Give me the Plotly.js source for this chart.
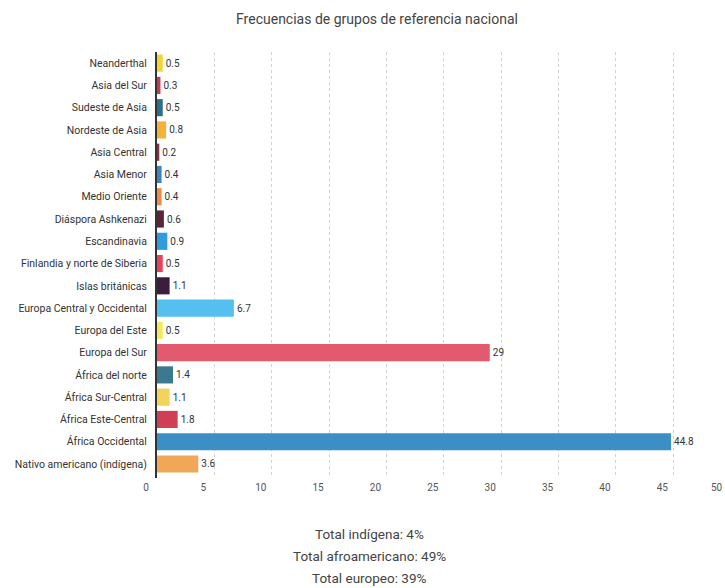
<!DOCTYPE html>
<html>
<head>
<meta charset="utf-8">
<script src="https://cdn.plot.ly/plotly-3.0.1.min.js"></script>
<style>html,body{margin:0;padding:0;background:#fff;overflow:hidden}#chart{width:725px;height:588px}</style>
</head>
<body>
<div id="chart"></div>
<script>
var categories = ["Neanderthal","Asia del Sur","Sudeste de Asia","Nordeste de Asia","Asia Central","Asia Menor","Medio Oriente","Diáspora Ashkenazi","Escandinavia","Finlandia y norte de Siberia","Islas británicas","Europa Central y Occidental","Europa del Este","Europa del Sur","África del norte","África Sur-Central","África Este-Central","África Occidental","Nativo americano (indígena)"];
var values = [0.5,0.3,0.5,0.8,0.2,0.4,0.4,0.6,0.9,0.5,1.1,6.7,0.5,29,1.4,1.1,1.8,44.8,3.6];
var barColors = ["#f3d436","#c43a52","#2d6e8e","#f2b33a","#8b2c42","#3a86bc","#ef8a48","#5b2438","#2f9be0","#e8405c","#3b1d3c","#55c0f0","#f3ea5a","#e35a6e","#3c7890","#f2d35c","#d04055","#3b8fc4","#f0a858"];
var tickValues = [0,5,10,15,20,25,30,35,40,45];
var lastTickLabel = "50";
var titleText = "Frecuencias de grupos de referencia nacional";
var footerLines = ["Total indígena: 4%","Total afroamericano: 49%","Total europeo: 39%"];

var trace = {
  type: "bar",
  orientation: "h",
  x: values,
  y: categories,
  marker: {color: barColors},
  text: values.map(String),
  textposition: "outside",
  textfont: {family: "Roboto, sans-serif", size: 10, color: "#333"},
  constraintext: "none",
  cliponaxis: false,
  hoverinfo: "x+y"
};

var W = 725, H = 588;
var plotTop = 52, plotBottom = 478, plotLeft = 157;
var plotH = plotBottom - plotTop, plotW = W - plotLeft;
function py(p){ return (plotBottom - p) / plotH; }
function px(p){ return (p - plotLeft) / plotW; }

var footerY = [534, 556, 578];
var annotations = footerLines.map(function(t, i){
  return {
    text: t, xref: "paper", yref: "paper",
    x: px(369), y: py(footerY[i]), xanchor: "center", yanchor: "middle",
    showarrow: false, font: {family: "Roboto, sans-serif", size: 13.5, color: "#444"}
  };
});
annotations.push({
  text: lastTickLabel, xref: "paper", yref: "paper",
  x: 1, y: py(488), xanchor: "right", yanchor: "middle",
  showarrow: false, font: {family: "Roboto, sans-serif", size: 10, color: "#555"}
});

var layout = {
  width: W, height: H,
  margin: {l: plotLeft, r: 0, t: plotTop, b: H - plotBottom, pad: 0},
  paper_bgcolor: "#fff", plot_bgcolor: "#fff",
  title: {text: titleText, xref: "container", x: 0.52, y: 1 - 19/H, yanchor: "middle", xanchor: "center",
          font: {family: "Roboto, sans-serif", size: 14, color: "#444"}},
  bargap: 0.23,
  showlegend: false,
  xaxis: {
    range: [0, 49.5],
    tickvals: tickValues,
    showgrid: true, gridcolor: "#d2d2d2", griddash: "dot", gridwidth: 1,
    zeroline: false, showline: false, ticks: "",
    ticklabelshift: -11,
    ticklabelstandoff: 2,
    tickfont: {family: "Roboto, sans-serif", size: 10, color: "#555"}
  },
  yaxis: {
    type: "category",
    range: [18.63, -0.5],
    showgrid: false, zeroline: false,
    showline: true, linecolor: "#333", linewidth: 2,
    ticks: "", ticklabelstandoff: 6,
    tickfont: {family: "Roboto, sans-serif", size: 10.5, color: "#333"}
  },
  annotations: annotations
};

Plotly.newPlot("chart", [trace], layout, {displayModeBar: false, staticPlot: true});
</script>
</body>
</html>
